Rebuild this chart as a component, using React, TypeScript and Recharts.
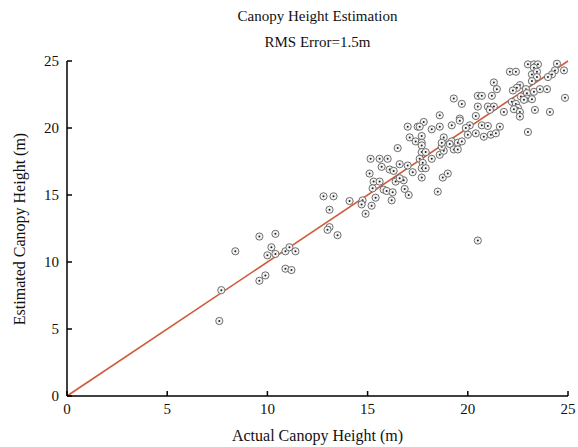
import React from "react";
import {
  ScatterChart,
  Scatter,
  XAxis,
  YAxis,
  ReferenceLine,
} from "recharts";

const actual = [
  7.6, 7.7, 8.4, 9.6, 9.6, 9.9, 10.0, 10.4, 10.2, 10.4, 10.9, 11.1, 11.4, 10.9, 11.2,
  12.8, 13.3, 13.1, 13.1, 13.0, 13.5, 14.1, 14.75, 14.7, 15.2, 14.9, 15.4,
  15.15, 15.6, 16.0, 15.7, 15.1, 15.3, 15.6, 15.25, 15.8, 15.95, 16.25, 16.2, 16.1, 16.3,
  16.6, 16.5, 16.4, 16.8, 16.6, 16.85, 17.05, 17.25, 17.0, 17.0, 17.1, 17.4, 17.5,
  19.3, 19.7, 20.5, 20.5, 18.6, 17.8, 17.6, 18.2, 18.6, 19.2, 19.6, 19.6, 20.4, 20.1, 19.9,
  17.7, 17.7, 18.8, 19.2, 19.5, 19.7, 20.0, 20.4,
  17.7, 17.7, 17.9, 17.6, 18.2, 18.6, 18.8, 18.7, 18.7, 19.1, 19.3, 19.5, 17.75, 17.7, 17.9,
  17.7, 18.75, 19.0, 18.5, 20.5,
  22.1, 22.4, 23.0, 23.3, 23.5, 23.3, 23.2, 23.45, 23.45, 24.45, 24.8, 24.35, 24.2, 24.0,
  21.3, 21.45, 22.6, 22.45, 22.25, 22.9, 23.2, 23.3, 22.95, 23.6, 23.95, 22.65, 22.95, 23.2,
  22.8, 24.85, 22.2, 22.4, 22.5, 22.3, 22.6, 23.35, 24.1, 22.6, 21.8, 20.7, 21.2, 21.0, 21.3,
  21.1, 20.7, 21.0, 21.6, 20.8, 21.15, 21.4, 23.0,
];
const estimated = [
  5.6, 7.9, 10.8, 11.9, 8.6, 9.0, 10.5, 10.6, 11.1, 12.1, 10.8, 11.1, 10.8, 9.5, 9.4,
  14.9, 14.9, 13.9, 12.6, 12.4, 12.0, 14.55, 14.6, 14.3, 14.2, 13.6, 14.8,
  17.7, 17.7, 17.7, 17.1, 16.6, 16.0, 16.0, 15.5, 15.4, 15.3, 15.2, 14.6, 16.9, 16.8,
  17.3, 18.5, 16.0, 16.1, 16.25, 15.45, 15.0, 16.7, 17.2, 20.1, 19.3, 19.0, 20.1,
  22.2, 21.8, 22.4, 21.6, 20.95, 20.45, 20.1, 19.9, 20.1, 20.2, 20.7, 20.55, 20.9, 20.2, 20.0,
  19.4, 18.9, 19.3, 19.0, 18.9, 19.0, 19.5, 19.6,
  18.7, 18.2, 18.2, 17.7, 17.7, 18.0, 18.3, 18.6, 18.9, 18.8, 18.4, 18.4, 17.4, 17.0, 17.0,
  16.3, 16.3, 16.6, 15.25, 11.6,
  24.2, 24.2, 24.75, 24.75, 24.75, 24.5, 24.0, 24.2, 23.8, 24.8, 24.3, 24.3, 24.0, 23.8,
  23.4, 22.9, 23.2, 23.0, 22.8, 22.9, 23.5, 22.7, 22.6, 22.9, 22.9, 22.35, 22.2, 22.15,
  22.1, 22.25, 21.95, 21.8, 21.5, 21.4, 21.2, 21.35, 21.2, 20.85, 21.2, 22.4, 22.4, 21.6, 21.6,
  21.35, 20.2, 20.15, 20.1, 19.35, 19.5, 19.6, 19.7,
];
const ticks = [0, 5, 10, 15, 20, 25];

const points = actual.map((x, i) => ({ x, y: estimated[i] }));

const FONT = "'Liberation Serif', 'Times New Roman', serif";

function Marker(props: any) {
  const { cx, cy } = props;
  if (cx == null || cy == null) return null;
  return (
    <g>
      <circle cx={cx} cy={cy} r={3.6} fill="#f4f4f4" stroke="#6e6e6e" strokeWidth={1} />
      <circle cx={cx} cy={cy} r={1} fill="#222" />
    </g>
  );
}

const tickStyle = { fontSize: 15, fill: "#111", fontFamily: FONT };

export default function App() {
  return (
    <div
      style={{
        position: "absolute",
        left: 0,
        top: 0,
        width: 578,
        height: 447,
        background: "#fff",
        fontFamily: FONT,
        color: "#111",
      }}
    >
      <div style={{ position: "absolute", left: 67, width: 501, top: 8, textAlign: "center", fontSize: 15 }}>
        Canopy Height Estimation
      </div>
      <div style={{ position: "absolute", left: 67, width: 501, top: 34, textAlign: "center", fontSize: 15 }}>
        RMS Error=1.5m
      </div>
      <div style={{ position: "absolute", left: 67, width: 501, top: 427, textAlign: "center", fontSize: 16 }}>
        Actual Canopy Height (m)
      </div>
      <div
        style={{
          position: "absolute",
          left: 20,
          top: 229,
          fontSize: 16,
          whiteSpace: "nowrap",
          transform: "translate(-50%, -50%) rotate(-90deg)",
        }}
      >
        Estimated Canopy Height (m)
      </div>
      <ScatterChart
        width={578}
        height={447}
        margin={{ top: 61, right: 10, bottom: 21, left: 27 }}
        style={{ position: "absolute", left: 0, top: 0 }}
      >
        <XAxis
          type="number"
          dataKey="x"
          domain={[0, 25]}
          ticks={ticks}
          height={30}
          tickSize={-5}
          tickMargin={12}
          axisLine={{ stroke: "#000", strokeWidth: 1.5 }}
          tickLine={{ stroke: "#000", strokeWidth: 1.5 }}
          tick={tickStyle}
        />
        <YAxis
          type="number"
          dataKey="y"
          domain={[0, 25]}
          ticks={ticks}
          width={40}
          tickSize={-5}
          tickMargin={13}
          axisLine={{ stroke: "#000", strokeWidth: 1.5 }}
          tickLine={{ stroke: "#000", strokeWidth: 1.5 }}
          tick={tickStyle}
        />
        <Scatter data={points} shape={<Marker />} isAnimationActive={false} />
        <ReferenceLine
          segment={[
            { x: 0, y: 0 },
            { x: 25, y: 25 },
          ]}
          stroke="#cf5a3d"
          strokeWidth={1.6}
        />
      </ScatterChart>
    </div>
  );
}
